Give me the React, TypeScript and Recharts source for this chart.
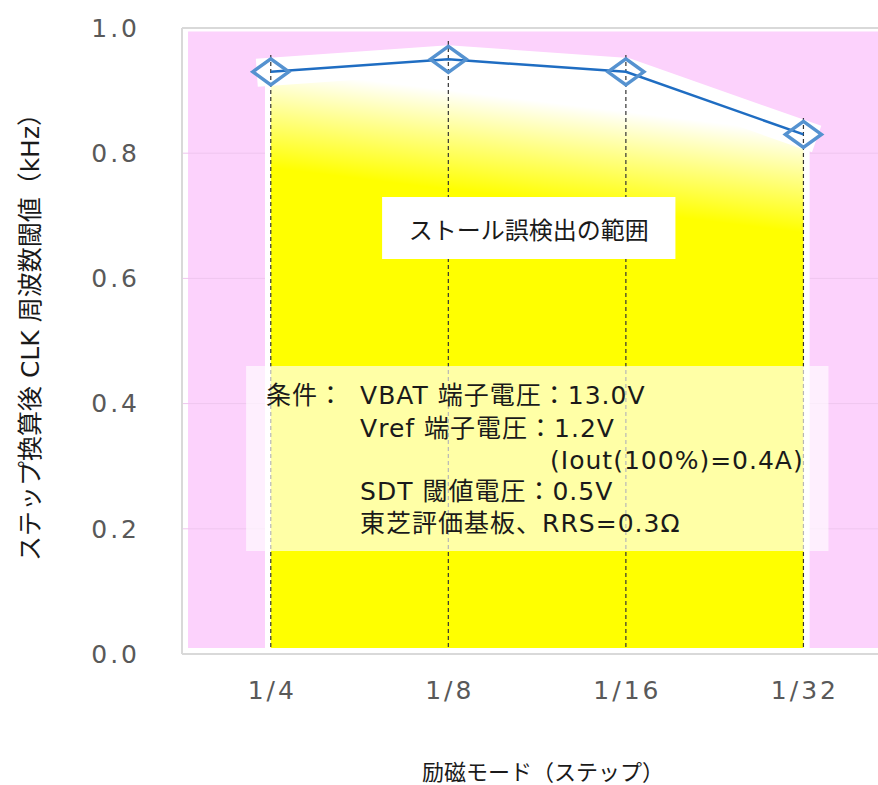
import React from 'react';
import {
  ComposedChart,
  Area,
  Bar,
  Line,
  XAxis,
  YAxis,
  ReferenceArea,
  ReferenceLine,
} from 'recharts';

// Step (excitation) modes on the horizontal axis
const modes = ['1/4', '1/8', '1/16', '1/32'];
// CLK frequency threshold after step conversion (kHz)
const thresholds = [0.93, 0.95, 0.93, 0.83];
// Vertical axis ticks
const yTicks = [0, 0.2, 0.4, 0.6, 0.8, 1.0];
const gridTicks = [0.2, 0.4, 0.6, 0.8];

const yTitle = 'ステップ換算後 CLK 周波数閾値（kHz）';
const xTitle = '励磁モード（ステップ）';
const rangeLabel = 'ストール誤検出の範囲';
const conditionHead = '条件：';
const conditionLines = [
  'VBAT 端子電圧：13.0V',
  'Vref 端子電圧：1.2V',
  '(Iout(100%)=0.4A)',
  'SDT 閾値電圧：0.5V',
  '東芝評価基板、RRS=0.3Ω',
];

const data = modes.map((mode, i) => ({ idx: i, mode, value: thresholds[i] }));

const W = 878;
const H = 785;
const FONT = "'DejaVu Sans', 'Noto Sans CJK JP', sans-serif";
const JP = "'Noto Sans CJK JP', sans-serif";
const PINK = '#fcd2fc';
const FRAME = '#d9d9d9';
const TICK = '#595959';
const LINE = '#1f6dc2';
const MARKER = '#5592d0';

const X_DOMAIN: [number, number] = [-0.5, 3.42];
// inset of the pink backdrop inside the frame (axis units)
const INSET_X = 0.034;
const INSET_Y = 0.0096;
const STEM_HEAD = 0.03;

const Diamond = (props: any) => {
  const { cx, cy, index } = props;
  if (cx == null || cy == null) return <g key={`d-${index}`} />;
  const hw = 18;
  const hh = 13;
  return (
    <polygon
      key={`d-${index}`}
      points={`${cx - hw},${cy} ${cx},${cy - hh} ${cx + hw},${cy} ${cx},${cy + hh}`}
      fill="none"
      stroke={MARKER}
      strokeWidth={3.5}
      strokeLinejoin="miter"
    />
  );
};

const StallLabel = (props: any) => {
  const vb = props.viewBox || {};
  return (
    <text
      x={vb.x + vb.width / 2}
      y={vb.y + vb.height / 2}
      textAnchor="middle"
      dominantBaseline="central"
      fontFamily={JP}
      fontSize={24}
      fill="#1a1a1a"
    >
      {rangeLabel}
    </text>
  );
};

const ConditionLabel = (props: any) => {
  const vb = props.viewBox || {};
  const left = vb.x;
  const top = vb.y;
  const rows = [29, 62, 94, 125, 157];
  const indents = [114, 114, 304, 114, 114];
  return (
    <g fontFamily={FONT} fontSize={25} letterSpacing={1} fill="#1a1a1a">
      <text x={left + 20} y={top + rows[0]} dominantBaseline="central">
        {conditionHead}
      </text>
      {conditionLines.map((s, i) => (
        <text key={i} x={left + indents[i]} y={top + rows[i]} dominantBaseline="central">
          {s}
        </text>
      ))}
    </g>
  );
};

const YTitle = (props: any) => {
  const vb = props.viewBox || {};
  const cx = vb.x - 92;
  const cy = vb.y + vb.height / 2 - 10;
  return (
    <text
      x={cx}
      y={cy}
      transform={`rotate(-90 ${cx} ${cy})`}
      textAnchor="middle"
      dominantBaseline="central"
      fontFamily={FONT}
      fontSize={25}
      fill="#1a1a1a"
    >
      {yTitle}
    </text>
  );
};

const XTitle = (props: any) => {
  const vb = props.viewBox || {};
  return (
    <text
      x={vb.x + 361}
      y={vb.y + 116}
      textAnchor="middle"
      dominantBaseline="central"
      fontFamily={JP}
      fontSize={22}
      fill="#1a1a1a"
    >
      {xTitle}
    </text>
  );
};

export default function App() {
  return (
    <div style={{ position: 'absolute', left: 0, top: 0, width: W, height: H, background: '#fff' }}>
      <ComposedChart
        width={W}
        height={H}
        data={data}
        margin={{ top: 28, right: 0, bottom: 71, left: 122 }}
      >
        <defs>
          <linearGradient id="stallFill" x1="0.5" y1="0.07" x2="0.482" y2="0.235">
            <stop offset="0" stopColor="#ffffff" />
            <stop offset="0.45" stopColor="#ffff8a" />
            <stop offset="1" stopColor="#ffff00" />
          </linearGradient>
        </defs>

        <XAxis
          dataKey="idx"
          type="number"
          domain={X_DOMAIN}
          ticks={[0, 1, 2, 3]}
          interval={0}
          allowDataOverflow
          tickFormatter={(v: number) => modes[v] ?? ''}
          tickLine={false}
          tickSize={0}
          tickMargin={27}
          height={60}
          axisLine={{ stroke: FRAME, strokeWidth: 2 }}
          tick={{ fill: TICK, fontSize: 25, fontFamily: FONT, letterSpacing: 3, dx: 1.5 }}
          label={<XTitle />}
        />
        <YAxis
          type="number"
          domain={[0, 1]}
          ticks={yTicks}
          interval={0}
          allowDataOverflow
          tickFormatter={(v: number) => v.toFixed(1)}
          tickLine={false}
          tickSize={0}
          tickMargin={42}
          width={60}
          axisLine={{ stroke: FRAME, strokeWidth: 2 }}
          tick={{ fill: TICK, fontSize: 25, fontFamily: FONT, letterSpacing: 3 }}
          label={<YTitle />}
        />

        {/* pink backdrop, inset from the frame */}
        <ReferenceArea
          x1={X_DOMAIN[0] + INSET_X}
          x2={X_DOMAIN[1]}
          y1={INSET_Y}
          y2={1 - INSET_Y * 0.6}
          fill={PINK}
          fillOpacity={1}
          stroke="none"
          ifOverflow="visible"
          zIndex={1}
        />
        <ReferenceLine y={1} stroke={FRAME} strokeWidth={2} ifOverflow="visible" zIndex={2} />
        {gridTicks.map((t) => (
          <ReferenceLine key={t} y={t} stroke="#efc6ef" strokeWidth={1} zIndex={2} />
        ))}

        {/* white rims at the outer edges of the stall range */}
        <Bar dataKey="value" fill="#ffffff" barSize={12} isAnimationActive={false} zIndex={3} />
        <Area
          dataKey="value"
          type="linear"
          stroke="none"
          fill="url(#stallFill)"
          fillOpacity={1}
          baseValue={0}
          dot={false}
          activeDot={false}
          isAnimationActive={false}
          zIndex={4}
        />
        <Line
          dataKey="value"
          type="linear"
          stroke="#ffffff"
          strokeWidth={28}
          strokeLinecap="square"
          strokeLinejoin="miter"
          dot={false}
          activeDot={false}
          isAnimationActive={false}
          zIndex={5}
        />

        {data.map((d) => (
          <ReferenceLine
            key={`stem-${d.idx}`}
            segment={[
              { x: d.idx, y: 0 },
              { x: d.idx, y: d.value + STEM_HEAD },
            ]}
            stroke="#333333"
            strokeWidth={1.2}
            strokeDasharray="4 3"
            zIndex={6}
          />
        ))}

        <Line
          dataKey="value"
          type="linear"
          stroke={LINE}
          strokeWidth={2.5}
          dot={<Diamond />}
          activeDot={false}
          isAnimationActive={false}
          zIndex={7}
        />

        {/* white strip along the bottom of the plot */}
        <ReferenceArea
          x1={X_DOMAIN[0] + INSET_X}
          x2={X_DOMAIN[1]}
          y1={0}
          y2={INSET_Y}
          fill="#ffffff"
          fillOpacity={1}
          stroke="none"
          zIndex={8}
        />

        <ReferenceArea
          x1={-0.139}
          x2={3.141}
          y1={0.1645}
          y2={0.46}
          fill="#ffffff"
          fillOpacity={0.65}
          stroke="none"
          zIndex={9}
          label={<ConditionLabel />}
        />
        <ReferenceArea
          x1={0.627}
          x2={2.279}
          y1={0.631}
          y2={0.73}
          fill="#ffffff"
          fillOpacity={1}
          stroke="none"
          zIndex={10}
          label={<StallLabel />}
        />
      </ComposedChart>
    </div>
  );
}
